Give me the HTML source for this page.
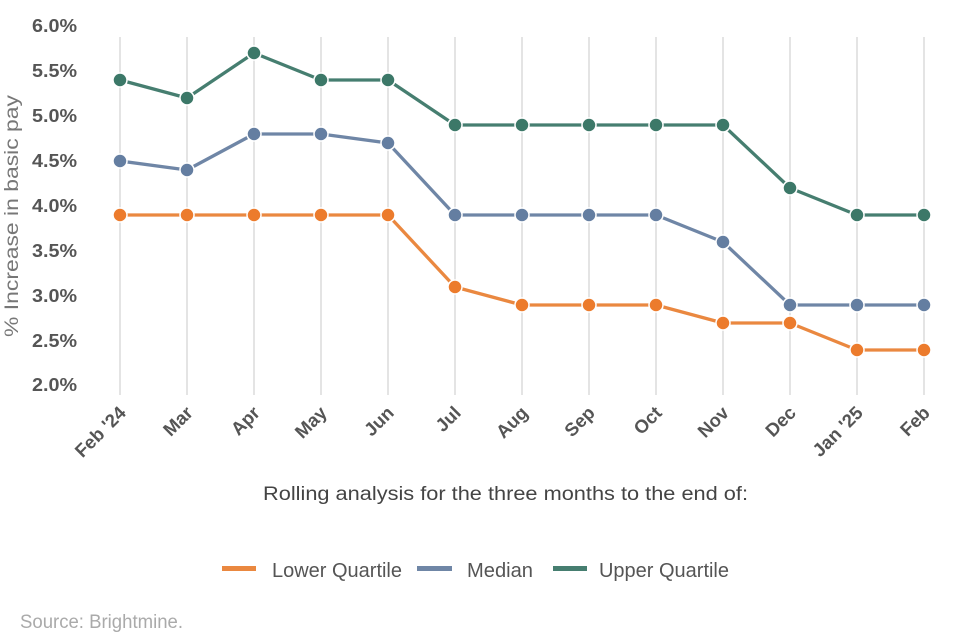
<!DOCTYPE html>
<html>
<head>
<meta charset="utf-8">
<style>
html,body{margin:0;padding:0;background:#fff;}
svg{display:block;}
text{font-family:"Liberation Sans Narrow","Liberation Sans",Arial,sans-serif;}
</style>
</head>
<body>
<svg width="960" height="640" viewBox="0 0 960 640" xmlns="http://www.w3.org/2000/svg">
<rect width="960" height="640" fill="#fff"/>
<!-- gridlines -->
<g stroke="#dcdcdc" stroke-width="1.5">
<line x1="120" y1="37" x2="120" y2="395"/>
<line x1="187" y1="37" x2="187" y2="395"/>
<line x1="254" y1="37" x2="254" y2="395"/>
<line x1="321" y1="37" x2="321" y2="395"/>
<line x1="388" y1="37" x2="388" y2="395"/>
<line x1="455" y1="37" x2="455" y2="395"/>
<line x1="522" y1="37" x2="522" y2="395"/>
<line x1="589" y1="37" x2="589" y2="395"/>
<line x1="656" y1="37" x2="656" y2="395"/>
<line x1="723" y1="37" x2="723" y2="395"/>
<line x1="790" y1="37" x2="790" y2="395"/>
<line x1="857" y1="37" x2="857" y2="395"/>
<line x1="924" y1="37" x2="924" y2="395"/>
</g>
<!-- y tick labels -->
<g font-size="18" font-weight="bold" fill="#555" text-anchor="end">
<text x="77" y="32" textLength="45" lengthAdjust="spacingAndGlyphs">6.0%</text>
<text x="77" y="77" textLength="45" lengthAdjust="spacingAndGlyphs">5.5%</text>
<text x="77" y="122" textLength="45" lengthAdjust="spacingAndGlyphs">5.0%</text>
<text x="77" y="167" textLength="45" lengthAdjust="spacingAndGlyphs">4.5%</text>
<text x="77" y="212" textLength="45" lengthAdjust="spacingAndGlyphs">4.0%</text>
<text x="77" y="257" textLength="45" lengthAdjust="spacingAndGlyphs">3.5%</text>
<text x="77" y="302" textLength="45" lengthAdjust="spacingAndGlyphs">3.0%</text>
<text x="77" y="347" textLength="45" lengthAdjust="spacingAndGlyphs">2.5%</text>
<text x="77" y="391" textLength="45" lengthAdjust="spacingAndGlyphs">2.0%</text>
</g>
<!-- y axis title -->
<text transform="translate(18,216) rotate(-90)" text-anchor="middle" font-size="19" fill="#777" textLength="242" lengthAdjust="spacingAndGlyphs">% Increase in basic pay</text>
<!-- x tick labels -->
<g font-size="18.5" font-weight="bold" fill="#555" text-anchor="end">
<text transform="translate(127,414) rotate(-45)">Feb '24</text>
<text transform="translate(194,414) rotate(-45)">Mar</text>
<text transform="translate(261,414) rotate(-45)">Apr</text>
<text transform="translate(328,414) rotate(-45)">May</text>
<text transform="translate(395,414) rotate(-45)">Jun</text>
<text transform="translate(462,414) rotate(-45)">Jul</text>
<text transform="translate(529,414) rotate(-45)">Aug</text>
<text transform="translate(596,414) rotate(-45)">Sep</text>
<text transform="translate(663,414) rotate(-45)">Oct</text>
<text transform="translate(730,414) rotate(-45)">Nov</text>
<text transform="translate(797,414) rotate(-45)">Dec</text>
<text transform="translate(864,414) rotate(-45)">Jan '25</text>
<text transform="translate(931,414) rotate(-45)">Feb</text>
</g>
<!-- series -->
<g fill="none" stroke-width="3.3" stroke-linejoin="round">
<polyline stroke="#ea8840" points="120,215 187,215 254,215 321,215 388,215 455,287 522,305 589,305 656,305 723,323 790,323 857,350 924,350"/>
<polyline stroke="#6f86a6" points="120,161 187,170 254,134 321,134 388,143 455,215 522,215 589,215 656,215 723,242 790,305 857,305 924,305"/>
<polyline stroke="#467e70" points="120,80 187,98 254,53 321,80 388,80 455,125 522,125 589,125 656,125 723,125 790,188 857,215 924,215"/>
</g>
<g stroke="#fff" stroke-width="1.5">
<g fill="#ec7b2c">
<circle cx="120" cy="215" r="7"/><circle cx="187" cy="215" r="7"/><circle cx="254" cy="215" r="7"/><circle cx="321" cy="215" r="7"/><circle cx="388" cy="215" r="7"/><circle cx="455" cy="287" r="7"/><circle cx="522" cy="305" r="7"/><circle cx="589" cy="305" r="7"/><circle cx="656" cy="305" r="7"/><circle cx="723" cy="323" r="7"/><circle cx="790" cy="323" r="7"/><circle cx="857" cy="350" r="7"/><circle cx="924" cy="350" r="7"/>
</g>
<g fill="#647ea1">
<circle cx="120" cy="161" r="7"/><circle cx="187" cy="170" r="7"/><circle cx="254" cy="134" r="7"/><circle cx="321" cy="134" r="7"/><circle cx="388" cy="143" r="7"/><circle cx="455" cy="215" r="7"/><circle cx="522" cy="215" r="7"/><circle cx="589" cy="215" r="7"/><circle cx="656" cy="215" r="7"/><circle cx="723" cy="242" r="7"/><circle cx="790" cy="305" r="7"/><circle cx="857" cy="305" r="7"/><circle cx="924" cy="305" r="7"/>
</g>
<g fill="#3c7868">
<circle cx="120" cy="80" r="7"/><circle cx="187" cy="98" r="7"/><circle cx="254" cy="53" r="7"/><circle cx="321" cy="80" r="7"/><circle cx="388" cy="80" r="7"/><circle cx="455" cy="125" r="7"/><circle cx="522" cy="125" r="7"/><circle cx="589" cy="125" r="7"/><circle cx="656" cy="125" r="7"/><circle cx="723" cy="125" r="7"/><circle cx="790" cy="188" r="7"/><circle cx="857" cy="215" r="7"/><circle cx="924" cy="215" r="7"/>
</g>
</g>
<!-- x axis title -->
<text x="263" y="500" font-size="19" fill="#444" textLength="485" lengthAdjust="spacingAndGlyphs">Rolling analysis for the three months to the end of:</text>
<!-- legend -->
<rect x="222" y="566" width="34" height="5" fill="#ea8840"/>
<text x="272" y="577" font-size="20" fill="#555" textLength="130" lengthAdjust="spacingAndGlyphs">Lower Quartile</text>
<rect x="417" y="566" width="35" height="5" fill="#6f86a6"/>
<text x="467" y="577" font-size="20" fill="#555" textLength="66" lengthAdjust="spacingAndGlyphs">Median</text>
<rect x="553" y="566" width="34" height="5" fill="#467e70"/>
<text x="599" y="577" font-size="20" fill="#555" textLength="130" lengthAdjust="spacingAndGlyphs">Upper Quartile</text>
<!-- source -->
<text x="20" y="628" font-size="19" fill="#aaa" textLength="163" lengthAdjust="spacingAndGlyphs">Source: Brightmine.</text>
</svg>
</body>
</html>
